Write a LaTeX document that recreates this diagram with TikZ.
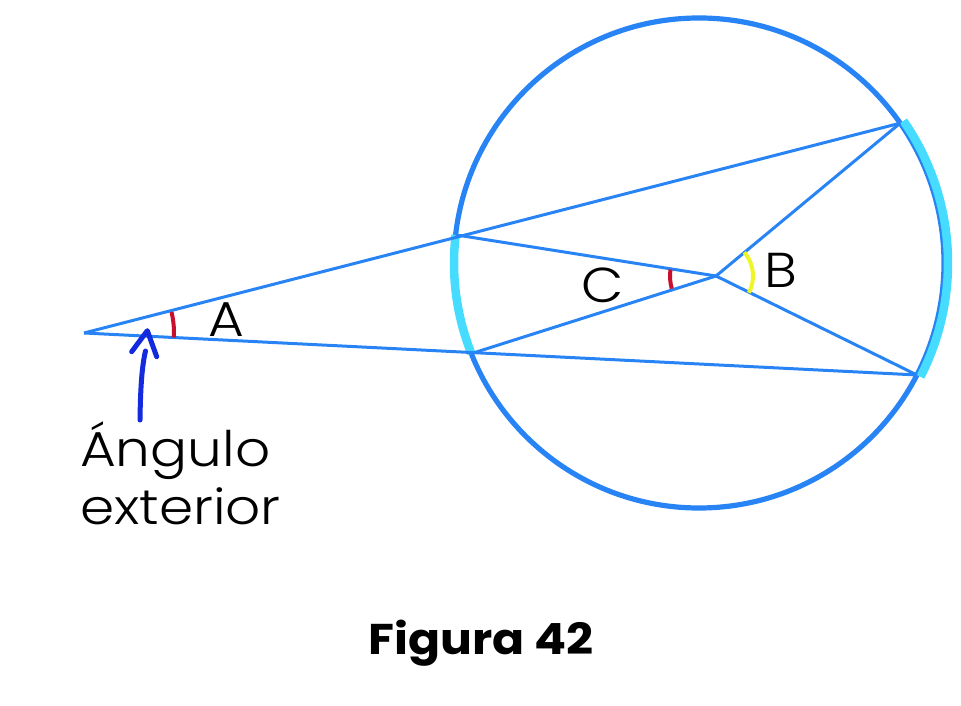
\documentclass[tikz,border=0pt]{standalone}
\usepackage{fontspec}
\setmainfont{Poppins Light}[FakeStretch=1.12]
\newfontfamily\capfont{Poppins}[FakeStretch=1.1]
\usetikzlibrary{calc}
\definecolor{lineblue}{RGB}{40,132,245}
\definecolor{arccyan}{RGB}{70,220,255}
\definecolor{markred}{RGB}{200,16,46}
\definecolor{markyellow}{RGB}{238,245,40}
\definecolor{arrowblue}{RGB}{20,42,222}
\begin{document}
\begin{tikzpicture}[x=1pt,y=1pt,
  circ/.style={draw=lineblue, line width=5.2pt},
  seg/.style={draw=lineblue, line width=3pt},
  cyanarc/.style={draw=arccyan, line width=8.5pt},
  redmark/.style={draw=markred, line width=4pt},
  yelmark/.style={draw=markyellow, line width=4pt},
  pointer/.style={draw=arrowblue, line width=5pt, line cap=round, line join=round},
  lbl/.style={inner sep=0pt, font=\fontsize{49}{56}\selectfont},
  caption/.style={inner sep=0pt, font=\capfont\fontsize{43}{50}\selectfont\bfseries}]
\useasboundingbox (0,0) rectangle (961,706);
\coordinate (O) at (699,443);
\coordinate (P) at (84,373);
\coordinate (U1) at ($(O)+(173.4:245)$);
\coordinate (L1) at ($(O)+(201.7:245)$);
\coordinate (U2) at ($(O)+(34.8:245)$);
\coordinate (L2) at ($(O)+(-27.2:245)$);
\coordinate (V) at (716,430);
% circle
\draw[circ] (O) circle[radius=245];
% highlighted arcs
\draw[cyanarc] ($(O)+(173.4:245)$) arc[start angle=173.4, end angle=201.7, radius=245];
\draw[cyanarc] ($(O)+(34.8:249)$) arc[start angle=34.8, end angle=-27.2, radius=249];
% secants and chords
\draw[seg] (P) -- (U2);
\draw[seg] (P) -- (L2);
\draw[seg] (U1) -- (V);
\draw[seg] (L1) -- (V);
\draw[seg] (U2) -- (V);
\draw[seg] (L2) -- (V);
% angle marks
\draw[redmark] ($(P)+(-2.9:90)$) arc[start angle=-2.9, end angle=13.5, radius=90];
\draw[redmark] ($(V)+(172:46)$) arc[start angle=172, end angle=196, radius=46];
\draw[yelmark] ($(V)+(-27:37)$) arc[start angle=-27, end angle=40, radius=37];
% labels
\node[lbl] (la) at (226,386) {A};
\node[lbl] (lb) at (781,436) {B};
\node[lbl] (lc) at (603,421) {C};
\node[lbl, anchor=base west] (ang) at (80,239) {Ángulo};
\node[lbl, anchor=base west] (ext) at (80,181) {exterior};
% pointer arrow
\coordinate (tail) at (140,286);
\coordinate (shafttop) at (145.5,355);
\coordinate (tip) at (147.3,375.3);
\draw[pointer] (tail) .. controls (140.5,320) and (142,340) .. (shafttop);
\draw[pointer] (131.7,354.3) -- (tip) -- (156.7,349.3);
% caption
\node[caption, anchor=base] (fig) at (481,51) {Figura 42};
\end{tikzpicture}
\end{document}
